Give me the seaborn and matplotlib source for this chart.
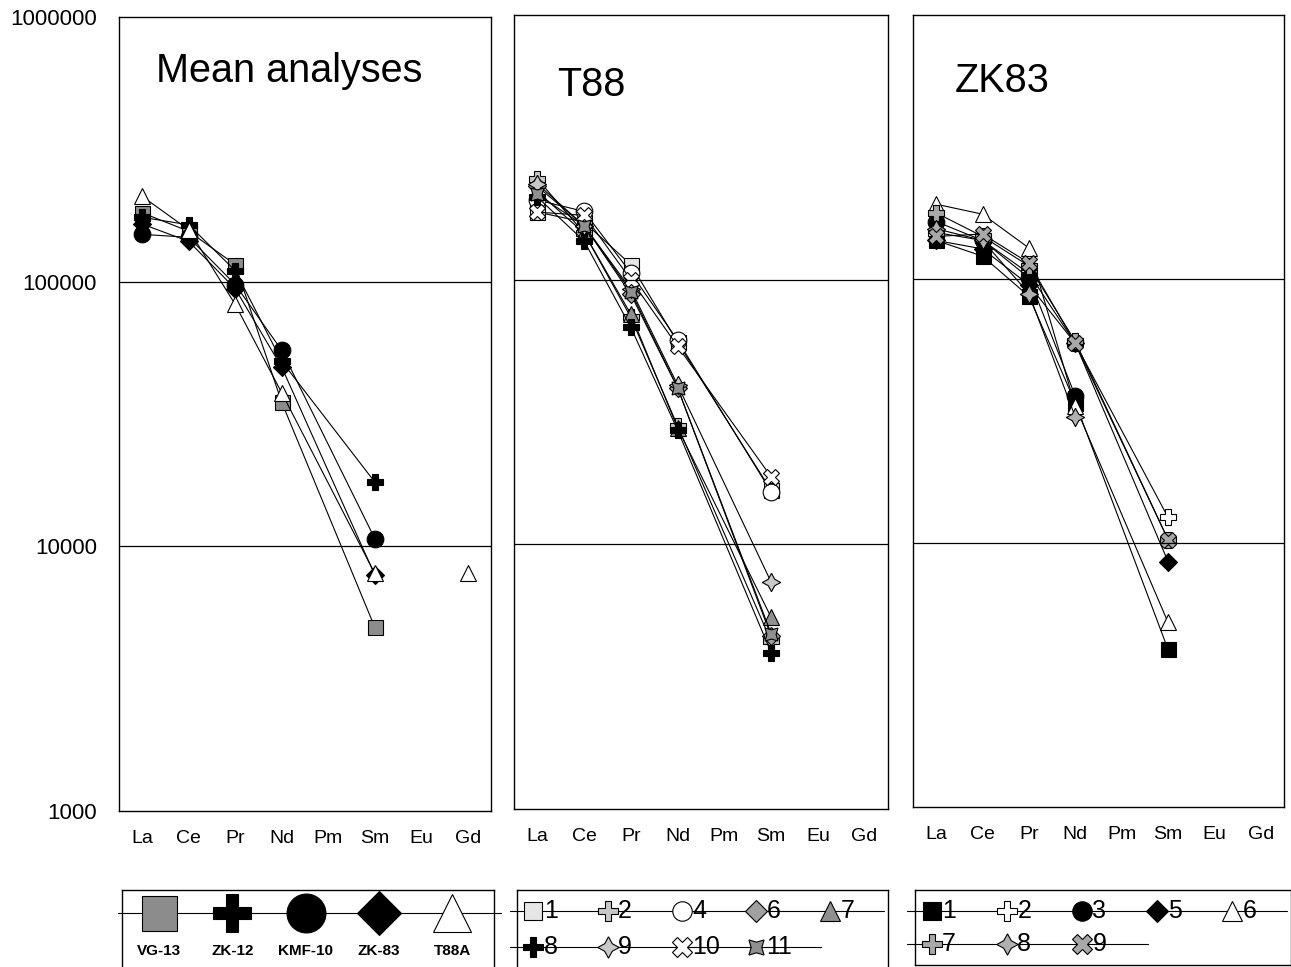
import numpy as np
import matplotlib.pyplot as plt
import seaborn as sns

sns.set_style("white")
plt.rcParams['font.family'] = ['Liberation Sans', 'DejaVu Sans']
plt.rcParams['text.color'] = 'black'
plt.rcParams['xtick.color'] = 'black'
plt.rcParams['ytick.color'] = 'black'

elements = ["La", "Ce", "Pr", "Nd", "Pm", "Sm", "Eu", "Gd"]
nan = np.nan

# Mean analyses
mean_names = ["VG-13", "ZK-12", "KMF-10", "ZK-83", "T88A"]
vg13 = [182000, 155000, 116000, 35000, nan, 4950, nan, nan]
zk12 = [175000, 164000, 110000, 50000, nan, 17500, nan, nan]
kmf10 = [151000, 147000, 97500, 55000, nan, 10700, nan, nan]
zk83 = [165000, 142000, 94000, 47500, nan, 7800, nan, nan]
t88a = [210000, 157000, 82000, 38000, nan, 7900, nan, 7950]
mean_values = [vg13, zk12, kmf10, zk83, t88a]

# T88
t88_names = ["1", "2", "4", "6", "7", "8", "9", "10", "11"]
t88_1 = [180000, 165000, 114000, 58000, nan, 16000, nan, nan]
t88_2 = [240000, 150000, 72000, 28000, nan, 4300, nan, nan]
t88_4 = [200000, 181000, 106000, 59000, nan, 15800, nan, nan]
t88_6 = [225000, 160000, 88000, 39000, nan, 4500, nan, nan]
t88_7 = [215000, 150000, 74000, 27500, nan, 5300, nan, nan]
t88_8 = [205000, 140000, 66000, 27000, nan, 3900, nan, nan]
t88_9 = [230000, 160000, 92000, 40000, nan, 7200, nan, nan]
t88_10 = [180000, 175000, 100000, 56000, nan, 18000, nan, nan]
t88_11 = [210000, 160000, 90000, 39000, nan, 4600, nan, nan]
t88_values = [t88_1, t88_2, t88_4, t88_6, t88_7, t88_8, t88_9, t88_10, t88_11]

# ZK83
zk_names = ["1", "2", "3", "5", "6", "7", "8", "9"]
zk_1 = [140000, 122000, 86000, 34000, nan, 3950, nan, nan]
zk_2 = [150000, 140000, 105000, 57000, nan, 12500, nan, nan]
zk_3 = [165000, 140000, 101000, 36000, nan, nan, nan, nan]
zk_5 = [140000, 130000, 95000, 57000, nan, 8500, nan, nan]
zk_6 = [192000, 176000, 131000, 33000, nan, 5000, nan, nan]
zk_7 = [178000, 145000, 112000, 58000, nan, 10300, nan, nan]
zk_8 = [155000, 140000, 88000, 30000, nan, nan, nan, nan]
zk_9 = [145000, 148000, 115000, 57000, nan, 10300, nan, nan]
zk_values = [zk_1, zk_2, zk_3, zk_5, zk_6, zk_7, zk_8, zk_9]

star4 = (4, 1, 0)
star4x = (4, 1, 45)
mean_styles = [("s", "#8c8c8c"), ("P", "black"), ("o", "black"), ("D", "black"), ("^", "white")]
t88_styles = [("s", "#e6e6e6"), ("P", "#c8c8c8"), ("o", "white"), ("D", "#a0a0a0"), ("^", "#909090"),
              ("P", "black"), (star4, "#c8c8c8"), ("X", "white"), (star4x, "#909090")]
zk_styles = [("s", "black"), ("P", "white"), ("o", "black"), ("D", "black"), ("^", "white"),
             ("P", "#a8a8a8"), (star4, "#b0b0b0"), ("X", "#a8a8a8")]
size_scale = {"D": 0.8, "s": 0.9, star4: 1.1, star4x: 1.1}

fig = plt.figure(figsize=(12.91, 9.67), dpi=100)
W, H = 1291, 967


def box(l, t, r, b):
    return [l / W, 1 - b / H, (r - l) / W, (b - t) / H]


x = np.arange(len(elements))
pm = elements.index("Pm")


def runs_of(v):
    # Pm is never measured, so lines bridge it; other gaps stay open
    idx = [i for i in range(len(v)) if not np.isnan(v[i])]
    out, cur = [], []
    for i in idx:
        if cur and not (i - cur[-1] == 1 or (i - cur[-1] == 2 and cur[-1] + 1 == pm)):
            out.append(cur)
            cur = []
        cur.append(i)
    if cur:
        out.append(cur)
    return out


def draw_panel(ax, values, styles, title, tpos, ylabels):
    for vals, (m, fc) in zip(values, styles):
        v = np.array(vals, dtype=float)
        for r in runs_of(v):
            sns.lineplot(x=x[r], y=v[r], ax=ax, color="black", linewidth=0.8,
                         marker=m, markersize=12 * size_scale.get(m, 1.0),
                         markerfacecolor=fc, markeredgecolor="black",
                         markeredgewidth=0.8)
    ax.set_yscale("log")
    ax.set_ylim(1000, 1000000)
    ax.set_xlim(-0.5, len(elements) - 0.5)
    ax.set_xticks(x)
    ax.set_xticklabels(elements, fontsize=14)
    ax.set_yticks([1000, 10000, 100000, 1000000])
    ax.yaxis.set_minor_locator(plt.NullLocator())
    if ylabels:
        ax.set_yticklabels(["1000", "10000", "100000", "1000000"], fontsize=16)
    else:
        ax.set_yticklabels([])
    ax.tick_params(axis="x", length=0, pad=14)
    ax.tick_params(axis="y", length=0, pad=16)
    for lv in [10000, 100000]:
        ax.axhline(lv, color="black", linewidth=0.9)
    for s in ax.spines.values():
        s.set_color("black")
        s.set_linewidth(1.0)
    ax.set_xlabel("")
    ax.set_ylabel("")
    ax.text(tpos[0], tpos[1], title, transform=ax.transAxes, fontsize=28.5,
            va="center", ha="left")


ax1 = fig.add_axes(box(119, 17, 491, 811))
ax2 = fig.add_axes(box(514, 15, 888, 809))
ax3 = fig.add_axes(box(913, 15, 1284, 807))

draw_panel(ax1, mean_values, mean_styles, "Mean analyses", (0.10, 0.932), True)
draw_panel(ax2, t88_values, t88_styles, "T88", (0.115, 0.912), False)
draw_panel(ax3, zk_values, zk_styles, "ZK83", (0.113, 0.917), False)

# legend for mean analyses: big markers, labels below
lg1 = fig.add_axes(box(122, 890, 494, 968))
lg1.set_xlim(0, 5)
lg1.set_ylim(0, 1)
lg1.plot([-0.05, 5.1], [0.7, 0.7], color="black", linewidth=0.8, clip_on=False)
for i, (name, (m, fc)) in enumerate(zip(mean_names, mean_styles)):
    lg1.plot(i * 0.985 + 0.5, 0.7, marker=m, markersize=28 * size_scale.get(m, 1.0),
             markerfacecolor=fc, markeredgecolor="black", markeredgewidth=0.8,
             linestyle="none")
    lg1.text(i * 0.985 + 0.5, 0.22, name, ha="center", va="center", fontsize=11,
             fontweight="bold")


def small_legend(lax, names, styles):
    lax.set_xlim(0, 5)
    lax.set_ylim(0, 2)
    rows = [names[:5], names[5:]]
    srows = [styles[:5], styles[5:]]
    for ri, (nr, sr) in enumerate(zip(rows, srows)):
        yy = 1.45 - ri * 0.9
        end = 4.95 if ri == 0 else len(nr) + 0.1
        lax.plot([-0.1, end], [yy, yy], color="black", linewidth=0.8, clip_on=False)
        for ci, (n, (m, fc)) in enumerate(zip(nr, sr)):
            lax.plot(ci + 0.22, yy, marker=m, markersize=14 * size_scale.get(m, 1.0),
                     markerfacecolor=fc, markeredgecolor="black",
                     markeredgewidth=0.8, linestyle="none")
            lax.text(ci + 0.36, yy, n, ha="left", va="center", fontsize=18)


lg2 = fig.add_axes(box(517, 890, 888, 968))
small_legend(lg2, t88_names, t88_styles)
lg3 = fig.add_axes(box(915, 890, 1291, 965))
small_legend(lg3, zk_names, zk_styles)

for lax in [lg1, lg2, lg3]:
    lax.set_xticks([])
    lax.set_yticks([])
    for s in lax.spines.values():
        s.set_color("black")
        s.set_linewidth(1.0)

fig.savefig("out.png", dpi=100)
